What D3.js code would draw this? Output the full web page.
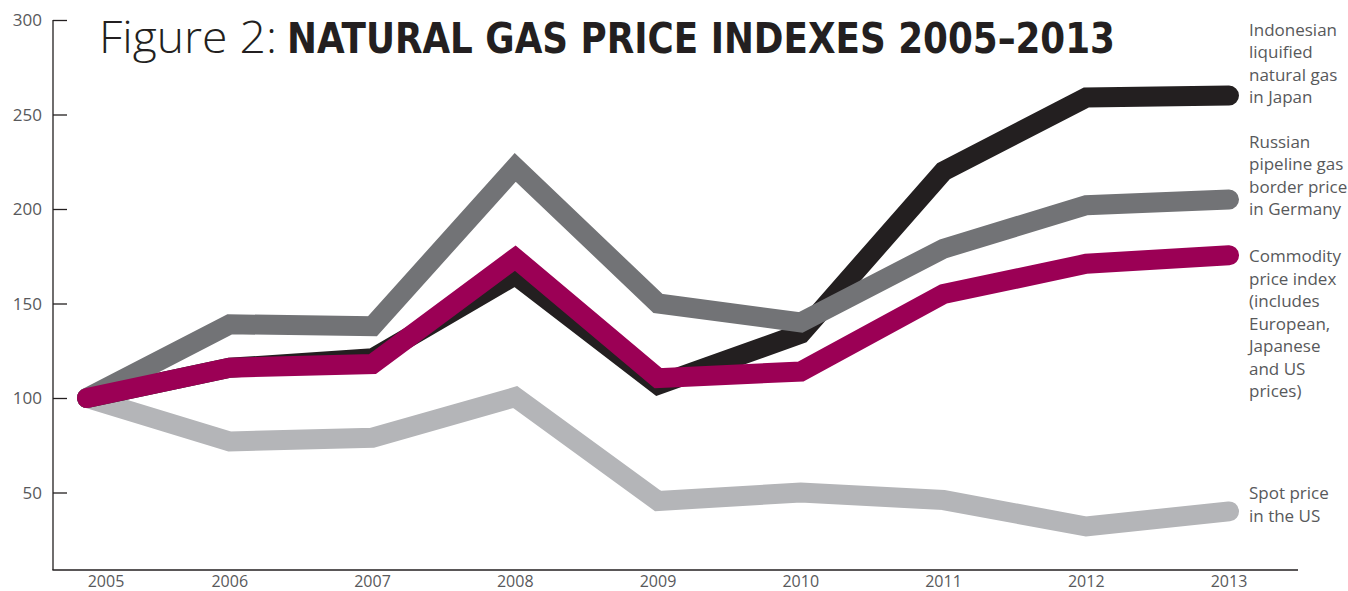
<!DOCTYPE html>
<html>
<head>
<meta charset="utf-8">
<script src="https://cdn.jsdelivr.net/npm/d3@7"></script>
<style>
  html, body { margin: 0; padding: 0; background: #ffffff; }
  svg { display: block; }
</style>
</head>
<body>
<svg id="chart" width="1348" height="591"></svg>
<script>
// ---------- DATA ----------
const years = [2005, 2006, 2007, 2008, 2009, 2010, 2011, 2012, 2013];
const japanLNG   = [100, 116, 121, 165, 107, 134, 220, 259, 260];
const russianGas = [100, 139, 138, 222, 150, 140, 179, 202, 205];
const commodity  = [100, 116, 118, 174, 110.5, 114, 155, 171, 175.5];
const usSpot     = [100, 77, 79, 100.5, 45.5, 50, 46, 32, 40];
const yTickValues = [50, 100, 150, 200, 250, 300];
const titleLight = "Figure 2:";
const titleBold = "NATURAL GAS PRICE INDEXES 2005\u20132013";
const labelJapan = ["Indonesian", "liquified", "natural gas", "in Japan"];
const labelRussian = ["Russian", "pipeline gas", "border price", "in Germany"];
const labelCommodity = ["Commodity", "price index", "(includes", "European,", "Japanese", "and US", "prices)"];
const labelSpot = ["Spot price", "in the US"];

// ---------- LAYOUT / STYLE ----------
const series = [
  { values: usSpot,     color: "#b4b5b8", label: labelSpot,      labelDy: -12 },
  { values: japanLNG,   color: "#231f20", label: labelJapan,     labelDy: -60 },
  { values: russianGas, color: "#727376", label: labelRussian,   labelDy: -52 },
  { values: commodity,  color: "#9b0055", label: labelCommodity, labelDy: 7 }
];

const svg = d3.select("#chart");
const x = d3.scaleLinear().domain([2005, 2013]).range([87, 1229]);
const y = d3.scaleLinear().domain([0, 300]).range([587, 20]);
const axisLeftX = 53, axisBottomY = 570, axisRightX = 1298;
const textGrey = "#58595b";
const font = "'Open Sans', 'Noto Sans', sans-serif";

// ---------- AXES ----------
const yAxis = d3.axisRight(y).tickValues(yTickValues).tickSize(14).tickFormat("");
const gy = svg.append("g").attr("transform", `translate(${axisLeftX},0)`).call(yAxis);
gy.select(".domain").remove();
gy.selectAll(".tick line").attr("stroke", "#231f20").attr("stroke-width", 1.3);

svg.append("line")
  .attr("x1", axisLeftX).attr("x2", axisLeftX)
  .attr("y1", y(300)).attr("y2", axisBottomY)
  .attr("stroke", "#231f20").attr("stroke-width", 1.3);

svg.append("line")
  .attr("x1", axisLeftX - 0.6).attr("x2", axisRightX)
  .attr("y1", axisBottomY).attr("y2", axisBottomY)
  .attr("stroke", "#231f20").attr("stroke-width", 1.6);

svg.append("g").selectAll("text").data(yTickValues).join("text")
  .attr("x", 42).attr("y", d => y(d) + 6)
  .attr("text-anchor", "end")
  .attr("font-family", font).attr("font-size", 17)
  .attr("fill", textGrey)
  .text(d => d);

svg.append("g").selectAll("text").data(years).join("text")
  .attr("x", (d, i) => x(d) + (i === 0 ? 19 : 0)).attr("y", 587)
  .attr("text-anchor", "middle")
  .attr("font-family", font).attr("font-size", 16)
  .attr("fill", textGrey)
  .text(d => d);

// ---------- LINES ----------
const line = d3.line().x((d, i) => x(years[i])).y(d => y(d));
svg.append("g").selectAll("path").data(series).join("path")
  .attr("d", d => line(d.values))
  .attr("fill", "none")
  .attr("stroke", d => d.color)
  .attr("stroke-width", 20)
  .attr("stroke-linecap", "round")
  .attr("stroke-linejoin", "miter")
  .attr("stroke-miterlimit", 4);

// ---------- LABELS ----------
series.forEach(s => {
  const endY = y(s.values[s.values.length - 1]);
  const t = svg.append("text")
    .attr("font-family", font).attr("font-size", 17)
    .attr("fill", textGrey);
  s.label.forEach((ln, i) => {
    t.append("tspan")
      .attr("x", 1249)
      .attr("y", endY + s.labelDy + i * 22.5)
      .text(ln);
  });
});

// ---------- TITLE ----------
svg.append("text")
  .attr("x", 99).attr("y", 53)
  .attr("font-family", "'Open Sans', 'Noto Sans', sans-serif")
  .attr("font-weight", 300)
  .attr("font-size", 44)
  .attr("fill", "#231f20")
  .attr("textLength", 178).attr("lengthAdjust", "spacingAndGlyphs")
  .text(titleLight);

svg.append("text")
  .attr("x", 287).attr("y", 53)
  .attr("font-family", "'Liberation Sans Narrow', 'DejaVu Sans Condensed', 'Liberation Sans', sans-serif")
  .attr("font-weight", 700)
  .attr("font-size", 43)
  .attr("fill", "#231f20")
  .attr("textLength", 828).attr("lengthAdjust", "spacingAndGlyphs")
  .text(titleBold);
</script>
</body>
</html>
